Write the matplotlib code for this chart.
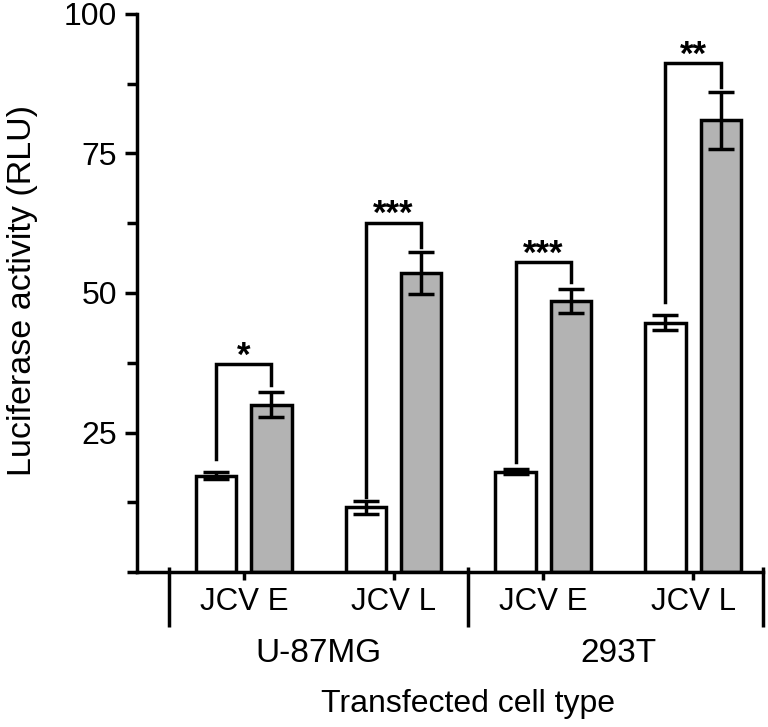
import matplotlib
matplotlib.use('Agg')
import matplotlib.pyplot as plt
import numpy as np

plt.rcParams['font.family'] = ['Liberation Sans', 'DejaVu Sans']

cell_types = ['U-87MG', '293T']
constructs = ['JCV E', 'JCV L', 'JCV E', 'JCV L']
white_vals = [17.3, 11.6, 18.0, 44.7]
white_err = [0.7, 1.1, 0.5, 1.3]
gray_vals = [30.0, 53.6, 48.6, 80.9]
gray_err = [2.3, 3.8, 2.2, 5.1]
# significance brackets: left foot, top, right foot
brk_left = [20.2, 13.4, 19.7, 48.3]
brk_top = [37.2, 62.6, 55.5, 91.2]
brk_right = [33.5, 58.3, 52.0, 86.9]
stars = ['*', '***', '***', '**']

lw = 2.5
x = np.arange(len(constructs))
off = 0.185
w = 0.27

fig, ax = plt.subplots(figsize=(7.68, 7.27), dpi=100)
fig.subplots_adjust(left=0.178, right=0.9935, top=0.981, bottom=0.213)

ax.bar(x - off, white_vals, w, color='white', edgecolor='black', linewidth=lw, zorder=2)
ax.bar(x + off, gray_vals, w, color='#b3b3b3', edgecolor='black', linewidth=lw, zorder=2)
ax.errorbar(x - off, white_vals, yerr=white_err, fmt='none', ecolor='black',
            elinewidth=lw, capsize=9.4, capthick=lw, zorder=3)
ax.errorbar(x + off, gray_vals, yerr=gray_err, fmt='none', ecolor='black',
            elinewidth=lw, capsize=9.4, capthick=lw, zorder=3)

for i in range(len(x)):
    ax.plot([x[i] - off, x[i] - off, x[i] + off, x[i] + off],
            [brk_left[i], brk_top[i], brk_top[i], brk_right[i]],
            color='black', lw=lw, solid_joinstyle='miter', zorder=3)
    ax.text(x[i], brk_top[i] - 0.3, stars[i], ha='center', va='baseline',
            fontsize=25, fontweight='bold')

ax.set_xlim(-0.715, 3.467)
ax.set_ylim(0, 100)
ax.spines['top'].set_visible(False)
ax.spines['right'].set_visible(False)
ax.spines['left'].set_linewidth(lw)
ax.spines['bottom'].set_linewidth(lw)

ax.set_yticks([25, 50, 75, 100])
ax.set_yticks(np.arange(0, 101, 12.5), minor=True)
ax.tick_params(axis='y', which='major', length=9, width=lw, labelsize=23, pad=5)
ax.tick_params(axis='y', which='minor', length=7, width=lw)
ax.set_xticks(x)
ax.set_xticklabels(constructs)
ax.tick_params(axis='x', which='major', length=6, width=lw, labelsize=22.5, pad=5)

# group separators below the axis
trans = ax.get_xaxis_transform()
for sx in [-0.5, 1.5, 3.467]:
    ax.plot([sx, sx], [0.009, -0.099], transform=trans, color='black', lw=lw,
            clip_on=False, solid_capstyle='butt')

for j, name in enumerate(cell_types):
    ax.text(2 * j + 0.5, -0.146, name, transform=trans, ha='center', va='center',
            fontsize=24)

ax.text(1.5, -0.236, 'Transfected cell type', transform=trans, ha='center',
        va='center', fontsize=23)
ax.set_ylabel('Luciferase activity (RLU)', fontsize=24.5)
ax.yaxis.set_label_coords(-0.158, 0.505)

fig.savefig('out.png', dpi=100)
